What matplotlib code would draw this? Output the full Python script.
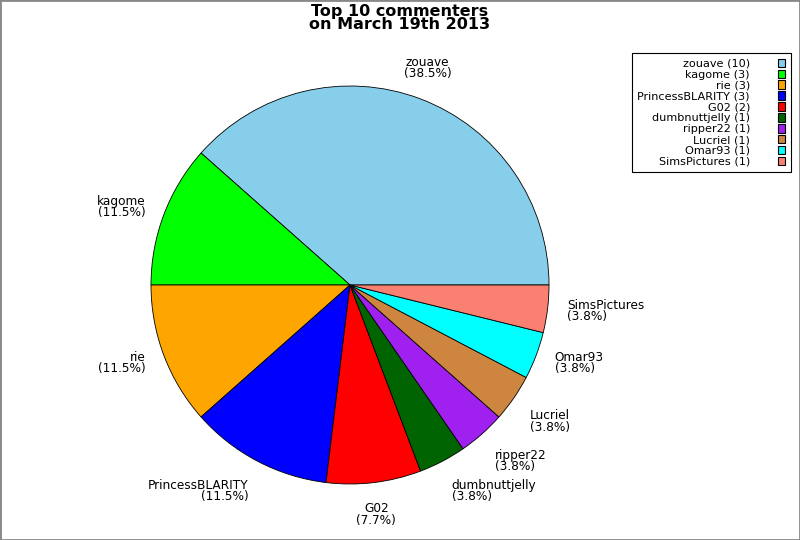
import matplotlib.pyplot as plt
import matplotlib.patches as mpatches
import numpy as np

# commenters and their comment counts
names = ['zouave', 'kagome', 'rie', 'PrincessBLARITY', 'G02',
         'dumbnuttjelly', 'ripper22', 'Lucriel', 'Omar93', 'SimsPictures']
counts = [10, 3, 3, 3, 2, 1, 1, 1, 1, 1]
colors = ['#87CEEB', '#00FF00', '#FFA500', '#0000FF', '#FF0000',
          '#006400', '#A020F0', '#CD853F', '#00FFFF', '#FA8072']

W, H = 800, 540
cx, cy, r = 350, 285, 199

fig = plt.figure(figsize=(8, 5.4), dpi=100)
fig.patch.set_facecolor('white')
ax = fig.add_axes([(cx - r) / W, (H - cy - r) / H, 2 * r / W, 2 * r / H])
ax.axis('off')

wedges, _ = ax.pie(counts, colors=colors, startangle=0, counterclock=True,
                   radius=1, wedgeprops=dict(edgecolor='black', linewidth=0.6))
ax.set_xlim(-1, 1)
ax.set_ylim(-1, 1)

total = sum(counts)
for w, name, c in zip(wedges, names, counts):
    mid = np.deg2rad((w.theta1 + w.theta2) / 2)
    x, y = 1.1 * np.cos(mid), 1.1 * np.sin(mid)
    deg = np.rad2deg(mid) % 360
    # compass-octant alignment
    if 67.5 <= deg <= 112.5 or 247.5 <= deg <= 292.5:
        ha = 'center'
    elif np.cos(mid) > 0:
        ha = 'left'
    else:
        ha = 'right'
    if deg <= 22.5 or deg >= 337.5 or 157.5 <= deg <= 202.5:
        va = 'center'
    elif np.sin(mid) > 0:
        va = 'bottom'
    else:
        va = 'top'
    ax.text(x, y, '%s\n(%.1f%%)' % (name, 100.0 * c / total), ha=ha, va=va,
            multialignment=ha, fontsize=8.7, linespacing=0.82, clip_on=False)

fig.suptitle('Top 10 commenters\non March 19th 2013', fontsize=11.5,
             fontweight='bold', y=0.993, va='top', linespacing=0.82)

handles = [mpatches.Rectangle((0, 0), 1, 1, facecolor=col, edgecolor='black',
                              linewidth=0.8) for col in colors]
labels = ['%s (%d)' % (n, c) for n, c in zip(names, counts)]
leg = fig.legend(handles, labels, loc='upper right',
                 bbox_to_anchor=(791 / W, 1 - 53 / H), markerfirst=False,
                 fontsize=8.1, handlelength=0.65, handleheight=0.8,
                 handletextpad=2.5, labelspacing=0.06, borderpad=0.5,
                 borderaxespad=0, fancybox=False, framealpha=1)
leg.get_frame().set_edgecolor('black')
leg.get_frame().set_linewidth(0.8)
for t in leg.get_texts():
    t.set_ha('right')

# grey outer border
fig.add_artist(mpatches.Rectangle((0, 0), 1, 1, transform=fig.transFigure,
                                  fill=False, edgecolor='#888888', linewidth=2))

fig.savefig('out.png', dpi=100)
